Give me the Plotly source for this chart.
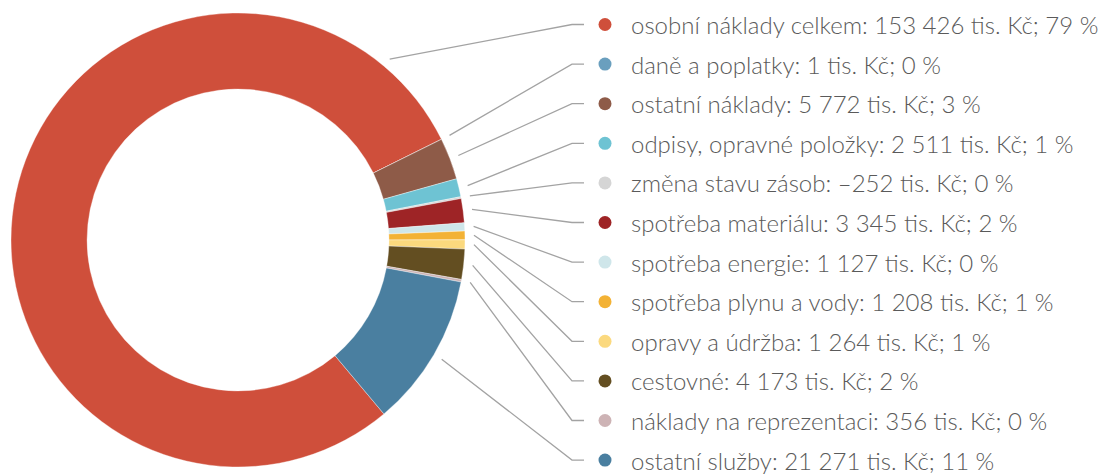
import numpy as np
import plotly.graph_objects as go

# Cost structure (thousands CZK), clockwise order around the ring
labels = [
    "osobní náklady celkem",
    "daně a poplatky",
    "ostatní náklady",
    "odpisy, opravné položky",
    "změna stavu zásob",
    "spotřeba materiálu",
    "spotřeba energie",
    "spotřeba plynu a vody",
    "opravy a údržba",
    "cestovné",
    "náklady na reprezentaci",
    "ostatní služby",
]
values = [153426, 1, 5772, 2511, -252, 3345, 1127, 1208, 1264, 4173, 356, 21271]
percents = [79, 0, 3, 1, 0, 2, 0, 1, 1, 2, 0, 11]
colors = [
    "#CF4F3B", "#6A9FBE", "#8E5B48", "#6EC3D3", "#D5D5D5", "#9E2426",
    "#CFE6EA", "#F3B235", "#FBD97E", "#634E21", "#CDB3B5", "#4A7FA0",
]

W, H = 1104, 475
CX, CY, R_OUT = 238, 240, 227      # ring centre and outer radius (px)
HOLE = 0.665
ROTATION = 140                     # start angle of first slice, clockwise from 12 o'clock
R_ANCHOR = R_OUT + 9               # where leader lines leave the ring
FIRST_ANCHOR_DEG = 40              # leader anchor for the wrap-around main slice
ROW_Y0, ROW_STEP = 24.5, 39.6
DOT_X, TEXT_X = 605, 629
BEND_X, END_X = 572, 584


def fmt_num(v):
    s = f"{abs(v):,}".replace(",", " ")
    return ("–" if v < 0 else "") + s


sizes = np.abs(np.array(values, dtype=float))

fig = go.Figure()
fig.add_trace(go.Pie(
    values=sizes,
    labels=labels,
    marker=dict(colors=colors, line=dict(color="rgba(255,255,255,0.6)", width=0.6)),
    hole=HOLE,
    sort=False,
    direction="clockwise",
    rotation=ROTATION,
    textinfo="none",
    hoverinfo="label+value",
    showlegend=False,
    domain=dict(
        x=[(CX - R_OUT) / W, (CX + R_OUT) / W],
        y=[(H - CY - R_OUT) / H, (H - CY + R_OUT) / H],
    ),
))

# leader lines from each slice to its legend row
frac = sizes / sizes.sum()
ends = ROTATION + np.cumsum(frac) * 360
mids = ends - frac * 360 / 2
row_y = [ROW_Y0 + i * ROW_STEP for i in range(len(labels))]

for i, lab in enumerate(labels):
    ang = FIRST_ANCHOR_DEG if i == 0 else mids[i] % 360
    a = np.deg2rad(ang)
    x0 = CX + R_ANCHOR * np.sin(a)
    y0 = CY - R_ANCHOR * np.cos(a)
    fig.add_trace(go.Scatter(
        x=[x0, BEND_X, END_X], y=[y0, row_y[i], row_y[i]],
        mode="lines", line=dict(color="#A3A3A3", width=1.3),
        hoverinfo="skip", showlegend=False,
    ))

# legend dots
fig.add_trace(go.Scatter(
    x=[DOT_X] * len(labels), y=row_y, mode="markers",
    marker=dict(size=13, color=colors, line=dict(width=0)),
    hoverinfo="skip", showlegend=False,
))

for i, lab in enumerate(labels):
    fig.add_annotation(
        x=TEXT_X, y=row_y[i], xref="x", yref="y",
        text=f"{lab}: {fmt_num(values[i])} tis. Kč; {percents[i]} %",
        showarrow=False, xanchor="left", yanchor="middle",
        font=dict(family="Lato", size=24, color="#5A5A5A", weight=300),
    )

fig.update_layout(
    width=W, height=H,
    margin=dict(l=0, r=0, t=0, b=0),
    paper_bgcolor="white", plot_bgcolor="rgba(0,0,0,0)",
    xaxis=dict(range=[0, W], visible=False, fixedrange=True),
    yaxis=dict(range=[H, 0], visible=False, fixedrange=True),
)

fig.write_html("out.html")
